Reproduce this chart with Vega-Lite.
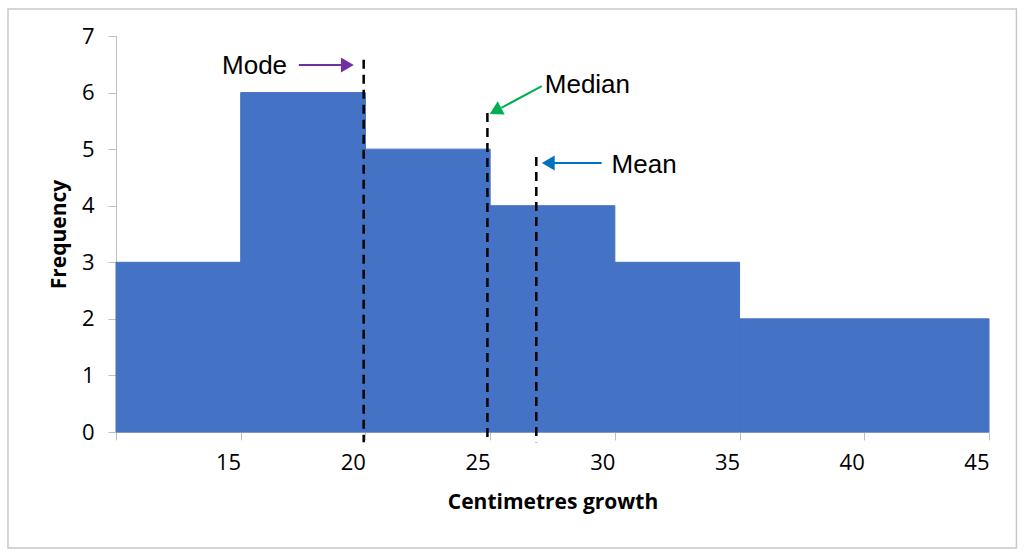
{
  "$schema": "https://vega.github.io/schema/vega-lite/v6.json",
  "width": 873,
  "height": 396,
  "autosize": {"type": "none"},
  "padding": {"left": 116, "top": 36, "right": 35, "bottom": 126},
  "background": "white",
  "config": {"view": {"stroke": null}},
  "datasets": {
    "bins": [
      {"lo": 10, "hi": 15, "freq": 3},
      {"lo": 15, "hi": 20, "freq": 6},
      {"lo": 20, "hi": 25, "freq": 5},
      {"lo": 25, "hi": 30, "freq": 4},
      {"lo": 30, "hi": 35, "freq": 3},
      {"lo": 35, "hi": 45, "freq": 2}
    ],
    "stats": [
      {"stat": "Mode", "value": 19.93, "top": 6.58, "bottom": -0.18, "labelX": 14.25, "labelY": 6.47, "ax1": 17.33, "ay1": 6.488, "ax2": 19.1, "ay2": 6.488, "hx": 19.275, "hy": 6.488},
      {"stat": "Median", "value": 24.89, "top": 5.64, "bottom": -0.18, "labelX": 27.19, "labelY": 6.134, "ax1": 27.07, "ay1": 6.116, "ax2": 25.45, "ay2": 5.73, "hx": 25.29, "hy": 5.694},
      {"stat": "Mean", "value": 26.85, "top": 4.86, "bottom": -0.18, "labelX": 29.87, "labelY": 4.72, "ax1": 29.47, "ay1": 4.755, "ax2": 27.25, "ay2": 4.755, "hx": 27.33, "hy": 4.755}
    ]
  },
  "layer": [
    {
      "data": {"values": [{}]},
      "mark": {"type": "rect", "fill": null, "fillOpacity": 0, "stroke": "#C8C8C8", "strokeWidth": 1.5, "clip": false},
      "encoding": {
        "x": {"datum": 5.67, "type": "quantitative", "scale": {"domain": [10, 45], "nice": false}},
        "x2": {"datum": 46.1},
        "y": {"datum": 7.477, "type": "quantitative", "scale": {"domain": [0, 7], "nice": false}},
        "y2": {"datum": -2.05}
      }
    },
    {
      "data": {"name": "bins"},
      "mark": {"type": "rect", "color": "#4472C4", "stroke": "#4472C4", "strokeWidth": 1},
      "encoding": {
        "x": {
          "field": "lo", "type": "quantitative",
          "scale": {"domain": [10, 45], "nice": false, "zero": false},
          "axis": {
            "values": [10, 15, 20, 25, 30, 35, 40, 45],
            "labelExpr": "datum.value == 10 ? '' : datum.label",
            "labelAlign": "right",
            "labelFont": "Open Sans",
            "labelFontSize": 22,
            "labelColor": "#000000",
            "labelPadding": 12,
            "tickSize": 8,
            "tickColor": "#BFBFBF",
            "domainColor": "#BFBFBF",
            "grid": false,
            "title": "Centimetres growth",
            "titleFont": "Open Sans",
            "titleFontSize": 21,
            "titleFontWeight": "bold",
            "titleColor": "#000000",
            "titlePadding": 18
          }
        },
        "x2": {"field": "hi"},
        "y": {
          "field": "freq", "type": "quantitative",
          "scale": {"domain": [0, 7], "nice": false},
          "axis": {
            "values": [0, 1, 2, 3, 4, 5, 6, 7],
            "format": "d",
            "labelFont": "Open Sans",
            "labelFontSize": 22,
            "labelColor": "#000000",
            "labelPadding": 14,
            "tickSize": 8,
            "tickColor": "#BFBFBF",
            "domainColor": "#BFBFBF",
            "grid": false,
            "title": "Frequency",
            "titleFont": "Open Sans",
            "titleFontSize": 21,
            "titleFontWeight": "bold",
            "titleColor": "#000000",
            "titlePadding": 12
          }
        },
        "y2": {"datum": 0}
      }
    },
    {
      "data": {"name": "stats"},
      "mark": {"type": "rule", "color": "#000000", "strokeWidth": 2.5, "strokeDash": [9, 6], "clip": false},
      "encoding": {
        "x": {"field": "value", "type": "quantitative"},
        "y": {"field": "top", "type": "quantitative"},
        "y2": {"field": "bottom"}
      }
    },
    {
      "data": {"name": "stats"},
      "mark": {"type": "rule", "strokeWidth": 2},
      "encoding": {
        "x": {"field": "ax1", "type": "quantitative"},
        "y": {"field": "ay1", "type": "quantitative"},
        "x2": {"field": "ax2"},
        "y2": {"field": "ay2"},
        "color": {"field": "stat", "type": "nominal", "scale": {"domain": ["Mode", "Median", "Mean"], "range": ["#7030A0", "#00B050", "#0070C0"]}, "legend": null}
      }
    },
    {
      "data": {"name": "stats"},
      "transform": [{"filter": "datum.stat == 'Mode'"}],
      "mark": {"type": "point", "shape": "triangle-right", "filled": true, "size": 220, "opacity": 1},
      "encoding": {
        "x": {"field": "hx", "type": "quantitative"},
        "y": {"field": "hy", "type": "quantitative"},
        "color": {"field": "stat", "type": "nominal", "scale": {"domain": ["Mode", "Median", "Mean"], "range": ["#7030A0", "#00B050", "#0070C0"]}, "legend": null}
      }
    },
    {
      "data": {"name": "stats"},
      "transform": [{"filter": "datum.stat == 'Median'"}],
      "mark": {"type": "point", "shape": "triangle", "angle": 242, "filled": true, "size": 220, "opacity": 1},
      "encoding": {
        "x": {"field": "hx", "type": "quantitative"},
        "y": {"field": "hy", "type": "quantitative"},
        "color": {"field": "stat", "type": "nominal", "scale": {"domain": ["Mode", "Median", "Mean"], "range": ["#7030A0", "#00B050", "#0070C0"]}, "legend": null}
      }
    },
    {
      "data": {"name": "stats"},
      "transform": [{"filter": "datum.stat == 'Mean'"}],
      "mark": {"type": "point", "shape": "triangle-left", "filled": true, "size": 220, "opacity": 1},
      "encoding": {
        "x": {"field": "hx", "type": "quantitative"},
        "y": {"field": "hy", "type": "quantitative"},
        "color": {"field": "stat", "type": "nominal", "scale": {"domain": ["Mode", "Median", "Mean"], "range": ["#7030A0", "#00B050", "#0070C0"]}, "legend": null}
      }
    },
    {
      "data": {"name": "stats"},
      "mark": {"type": "text", "align": "left", "baseline": "middle", "font": "Liberation Sans", "fontSize": 26, "color": "#000000"},
      "encoding": {
        "x": {"field": "labelX", "type": "quantitative"},
        "y": {"field": "labelY", "type": "quantitative"},
        "text": {"field": "stat"}
      }
    }
  ]
}
